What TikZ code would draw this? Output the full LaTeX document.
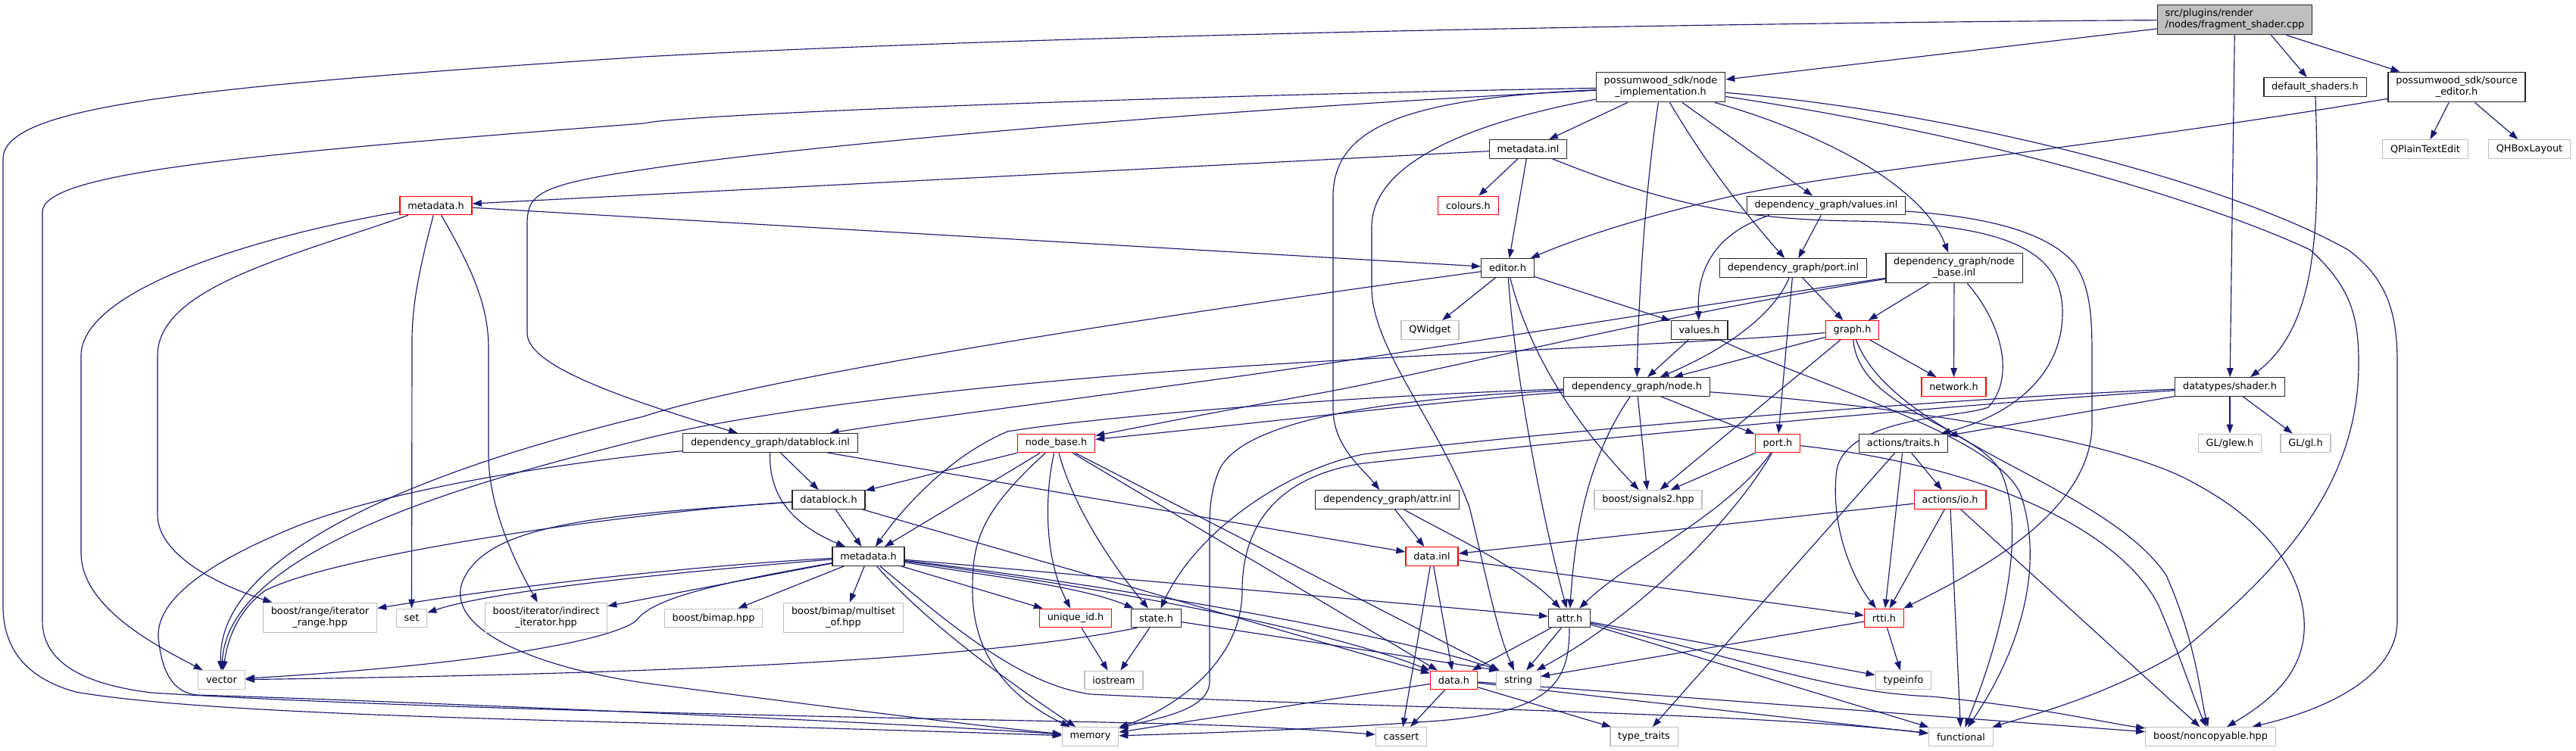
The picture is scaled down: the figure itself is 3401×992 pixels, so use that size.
\documentclass[tikz,border=0pt]{standalone}
\usepackage{fontspec}
\setmainfont{DejaVu Sans}
\usetikzlibrary{arrows.meta}
\definecolor{eb}{HTML}{191970}
\definecolor{gr}{HTML}{BFBFBF}
\definecolor{rd}{HTML}{FF0000}
\pgfdeclarelayer{background}
\pgfsetlayers{background,main}
\tikzset{
 base/.style={rectangle, line width=1.3pt, fill=white, inner xsep=10.35pt, inner ysep=2pt, minimum height=24.5pt, font=\fontsize{12.85}{15}\selectfont, text=black},
 box/.style={base, draw=black!85},
 rbox/.style={base, draw=rd},
 gbox/.style={base, draw=gr},
 two/.style={align=center, minimum height=39.5pt},
 root/.style={base, draw=black!85, fill=gr, align=left, minimum height=39.5pt},
 e/.style={draw=eb, line width=1.15pt, -{Triangle[length=12pt,width=8.5pt]}},
}
\begin{document}
\begin{tikzpicture}[x=1pt,y=-1pt]
\useasboundingbox (0,0) rectangle (3401,992);
% nodes
\node[root] (F) at (2950.5,26) {src/plugins/render\\/nodes/fragment\_shader.cpp};
\node[box,two] (NI) at (2192.5,115) {possumwood\_sdk/node\\\_implementation.h};
\node[box] (DS) at (3056.5,115) {default\_shaders.h};
\node[box,two] (SE) at (3243.5,115) {possumwood\_sdk/source\\\_editor.h};
\node[box] (MDI) at (2017.5,197) {metadata.inl};
\node[gbox] (QPT) at (3202,197) {QPlainTextEdit};
\node[gbox] (QHB) at (3339.5,197) {QHBoxLayout};
\node[rbox] (MDH1) at (575.5,271.5) {metadata.h};
\node[rbox] (COL) at (1938.5,271.5) {colours.h};
\node[box] (VINL) at (2411,271.5) {dependency\_graph/values.inl};
\node[box] (ED) at (1990.5,354) {editor.h};
\node[box] (PINL) at (2367.5,354) {dependency\_graph/port.inl};
\node[box,two] (NBI) at (2580,354) {dependency\_graph/node\\\_base.inl};
\node[gbox] (QW) at (1888,436) {QWidget};
\node[box] (VH) at (2243.5,436) {values.h};
\node[rbox] (GH) at (2445.5,436) {graph.h};
\node[box] (NODEH) at (2161,511) {dependency\_graph/node.h};
\node[rbox] (NET) at (2579.5,511) {network.h};
\node[box] (SH) at (2944,511) {datatypes/shader.h};
\node[box] (DBI) at (1017,585) {dependency\_graph/datablock.inl};
\node[rbox] (NB) at (1394.5,585.5) {node\_base.h};
\node[rbox] (PORT) at (2347,585.5) {port.h};
\node[box] (TRAITS) at (2513,585.5) {actions/traits.h};
\node[gbox] (GLEW) at (2944,585.5) {GL/glew.h};
\node[gbox] (GL) at (3044,585.5) {GL/gl.h};
\node[box] (DB) at (1094,660) {datablock.h};
\node[box] (AINL) at (1831.5,660) {dependency\_graph/attr.inl};
\node[gbox] (SIG) at (2176,660) {boost/signals2.hpp};
\node[rbox] (IO) at (2574.5,660) {actions/io.h};
\node[box] (MD) at (1146.5,735) {metadata.h};
\node[rbox] (DINL) at (1890.5,735) {data.inl};
\node[gbox,two] (RANGE) at (422.5,816) {boost/range/iterator\\\_range.hpp};
\node[gbox] (SET) at (543.5,816.5) {set};
\node[gbox,two] (INDIR) at (721,816) {boost/iterator/indirect\\\_iterator.hpp};
\node[gbox] (BIMAP) at (942,816.5) {boost/bimap.hpp};
\node[gbox,two] (MULTI) at (1113.5,816) {boost/bimap/multiset\\\_of.hpp};
\node[rbox] (UID) at (1420,816.5) {unique\_id.h};
\node[box] (STATE) at (1526.5,816.5) {state.h};
\node[box] (ATTR) at (2072,816.5) {attr.h};
\node[rbox] (RTTI) at (2487.5,816.5) {rtti.h};
\node[gbox] (VEC) at (292.5,898) {vector};
\node[gbox] (IOS) at (1470.5,898.5) {iostream};
\node[rbox] (DATA) at (1919.5,898.5) {data.h};
\node[gbox] (STR) at (2004.5,898.5) {string};
\node[gbox] (TYPEINFO) at (2513,898.5) {typeinfo};
\node[gbox] (MEM) at (1439.5,973) {memory};
\node[gbox] (CASSERT) at (1850,973) {cassert};
\node[gbox] (TT) at (2170.5,973) {type\_traits};
\node[gbox] (FUNC) at (2589,973.5) {functional};
\node[gbox] (NONC) at (2918.5,973) {boost/noncopyable.hpp};

\begin{pgfonlayer}{background}
\fill[white] (0,0) rectangle (3401,992);
% F
\draw[e] (F) -- (NI);
\draw[e] ([xshift=48pt]F.south) -- (DS);
\draw[e] ([xshift=68pt]F.south) -- ([xshift=-75pt]SE.north);
\draw[e] (F) -- (SH);
\draw[e] (F) .. controls (2300,30) and (1400,45) .. (850,75) .. controls (250,115) and (4,140) .. (4,210) -- (4,800) .. controls (4,870) and (50,900) .. (100,914) .. controls (250,940) and (600,948) .. (850,955) .. controls (1100,962) and (1300,968) .. (MEM);
% DS
\draw[e] (DS) .. controls (3063,300) and (3060,430) .. ([xshift=27pt]SH.north);
% SE
\draw[e] (SE) -- (QPT);
\draw[e] (SE) -- (QHB);
\draw[e] (SE) .. controls (2800,190) and (2450,225) .. (2300,256) .. controls (2150,290) and (2070,320) .. (ED);
% NI
\draw[e] (NI) -- (MDI);
\draw[e] (NI) -- (VINL);
\draw[e] (NI) .. controls (2260,230) and (2320,300) .. (PINL);
\draw[e] (NI) .. controls (2172,250) and (2163,400) .. (NODEH);
\draw[e] (NI) .. controls (2420,180) and (2540,250) .. (NBI);
\draw[e] (NI) .. controls (2600,150) and (2950,245) .. (3100,330) .. controls (3155,370) and (3165,420) .. (3165,480) -- (3165,820) .. controls (3165,890) and (3080,935) .. (NONC);
\draw[e] (NI) .. controls (2600,175) and (2900,260) .. (3050,330) .. controls (3105,380) and (3114,420) .. (3114,480) .. controls (3114,650) and (3000,760) .. (2880,860) .. controls (2780,920) and (2680,945) .. (FUNC);
\draw[e] (NI) .. controls (1500,150) and (1000,200) .. (850,224) .. controls (700,245) and (696,260) .. (696,300) -- (696,440) .. controls (696,480) and (800,520) .. (DBI);
\draw[e] (NI) .. controls (1850,130) and (1760,170) .. (1760,260) -- (1760,540) .. controls (1760,590) and (1800,620) .. (AINL);
\draw[e] (NI) .. controls (1900,170) and (1811,230) .. (1811,300) -- (1811,380) .. controls (1811,460) and (1900,560) .. (1940,670) .. controls (1960,750) and (1975,830) .. (STR);
\draw[e] (NI) .. controls (1600,125) and (900,150) .. (850,163) .. controls (300,205) and (56,230) .. (56,280) -- (56,820) .. controls (56,880) and (120,905) .. (200,915) .. controls (600,940) and (1300,950) .. (1500,955) .. controls (1650,958) and (1750,965) .. (CASSERT);
% MDI
\draw[e] (MDI) -- (MDH1);
\draw[e] (MDI) -- (COL);
\draw[e] (MDI) -- (ED);
\draw[e] (MDI) .. controls (2200,270) and (2300,290) .. (2450,292) .. controls (2650,296) and (2723,330) .. (2723,413) .. controls (2723,500) and (2650,550) .. (TRAITS);
% MDH1
\draw[e] (MDH1) -- (ED);
\draw[e] (MDH1) .. controls (350,310) and (107,380) .. (107,470) -- (107,730) .. controls (107,800) and (200,850) .. (VEC);
\draw[e] (MDH1) .. controls (380,340) and (208,380) .. (208,470) -- (208,680) .. controls (208,730) and (280,770) .. (RANGE);
\draw[e] (MDH1) .. controls (555,350) and (544,400) .. (544,450) -- (SET);
\draw[e] (MDH1) .. controls (620,350) and (645,400) .. (645,460) -- (645,600) .. controls (645,680) and (690,760) .. (INDIR);
% VINL
\draw[e] (VINL) -- (PINL);
\draw[e] ([xshift=-75pt]VINL.south) .. controls (2260,310) and (2240,360) .. (VH);
\draw[e] (VINL) .. controls (2600,285) and (2700,300) .. (2740,350) .. controls (2760,380) and (2762,420) .. (2762,470) -- (2762,560) .. controls (2762,680) and (2600,760) .. (RTTI);
% ED
\draw[e] (ED) -- (QW);
\draw[e] (ED) -- (VH);
\draw[e] (ED) .. controls (2000,500) and (2040,700) .. (ATTR);
\draw[e] (ED) .. controls (2020,470) and (2080,560) .. (SIG);
\draw[e] (ED) .. controls (1500,420) and (1000,500) .. (850,550) .. controls (560,620) and (285,730) .. (VEC);
% PINL
\draw[e] (PINL) -- (GH);
\draw[e] (PINL) -- (PORT);
\draw[e] (PINL) .. controls (2340,420) and (2270,465) .. (NODEH);
% NBI
\draw[e] (NBI) -- (GH);
\draw[e] (NBI) -- (NET);
\draw[e] (NBI) .. controls (2200,410) and (1800,475) .. (1614,500) .. controls (1400,530) and (1200,555) .. (DBI);
\draw[e] (NBI) .. controls (2200,415) and (1900,490) .. (1750,518) .. controls (1600,545) and (1500,565) .. (NB);
\draw[e] (NBI) .. controls (2645,430) and (2660,500) .. (2625,538) .. controls (2590,552) and (2440,550) .. (2425,620) .. controls (2415,700) and (2450,770) .. (RTTI);
% VH
\draw[e] (VH) -- (NODEH);
\draw[e] (VH) .. controls (2400,510) and (2650,580) .. (2670,660) .. controls (2700,760) and (2660,870) .. (FUNC);
% GH
\draw[e] (GH) -- (NET);
\draw[e] (GH) -- (SIG);
\draw[e] (GH) -- (NODEH);
\draw[e] (GH) .. controls (2300,450) and (2000,462) .. (1700,480) .. controls (1450,495) and (1050,530) .. (850,580) .. controls (650,630) and (300,720) .. (VEC);
\draw[e] (GH) .. controls (2455,540) and (2600,560) .. (2640,620) .. controls (2680,700) and (2640,850) .. (FUNC);
\draw[e] (GH) .. controls (2500,580) and (2780,640) .. (2860,760) .. controls (2900,850) and (2905,920) .. (NONC);
% NODEH
\draw[e] (NODEH) .. controls (1900,530) and (1700,555) .. (NB);
\draw[e] (NODEH) .. controls (1800,522) and (1450,550) .. (1330,570) .. controls (1260,600) and (1200,660) .. (MD);
\draw[e] (NODEH) .. controls (1800,528) and (1640,560) .. (1610,620) .. controls (1597,650) and (1597,680) .. (1597,700) -- (1597,900) .. controls (1597,940) and (1520,950) .. (MEM);
\draw[e] (NODEH) -- (PORT);
\draw[e] (NODEH) -- (SIG);
\draw[e] (NODEH) .. controls (2100,600) and (2080,690) .. (ATTR);
\draw[e] (NODEH) .. controls (2500,535) and (2800,580) .. (2900,640) .. controls (3030,710) and (3050,800) .. (3040,850) .. controls (3030,900) and (2990,930) .. (NONC);
% SH
\draw[e] (SH) -- (GLEW);
\draw[e] (SH) -- (GL);
\draw[e] (SH) -- (TRAITS);
\draw[e] (SH) .. controls (2500,530) and (2000,575) .. (1800,600) .. controls (1700,620) and (1580,700) .. (STATE);
\draw[e] (SH) .. controls (2500,540) and (2000,590) .. (1800,612) .. controls (1680,630) and (1640,700) .. (1640,780) .. controls (1640,880) and (1540,940) .. (MEM);
% DBI
\draw[e] (DBI) -- (DB);
\draw[e] (DBI) .. controls (1015,650) and (1040,690) .. (MD);
\draw[e] (DBI) -- (DINL);
\draw[e] (DBI) .. controls (800,605) and (520,640) .. (380,700) .. controls (260,750) and (200,800) .. (210,850) .. controls (215,890) and (230,915) .. (260,918) .. controls (500,925) and (1200,955) .. (MEM);
% DB
\draw[e] (DB) -- (MD);
\draw[e] (DB) .. controls (850,675) and (450,730) .. (350,780) .. controls (310,810) and (300,850) .. (VEC);
\draw[e] (DB) .. controls (800,680) and (640,690) .. (610,770) .. controls (590,830) and (700,880) .. (850,902) .. controls (1100,935) and (1300,960) .. (MEM);
\draw[e] (DB) -- (DATA);
% NB
\draw[e] (NB) -- (DB);
\draw[e] (NB) -- (MD);
\draw[e] (NB) .. controls (1290,680) and (1284,720) .. (1284,780) .. controls (1284,880) and (1350,930) .. (MEM);
\draw[e] (NB) .. controls (1378,660) and (1380,740) .. (UID);
\draw[e] (NB) .. controls (1420,680) and (1480,760) .. (STATE);
\draw[e] (NB) -- (DATA);
\draw[e] (NB) -- (STR);
% MD
\draw[e] (MD) .. controls (950,745) and (700,770) .. (RANGE);
\draw[e] (MD) .. controls (900,755) and (650,780) .. (SET);
\draw[e] (MD) -- (INDIR);
\draw[e] (MD) .. controls (950,770) and (860,790) .. (840,820) .. controls (800,850) and (600,880) .. (VEC);
\draw[e] (MD) -- (BIMAP);
\draw[e] (MD) -- (MULTI);
\draw[e] (MD) -- (UID);
\draw[e] (MD) .. controls (1300,760) and (1430,775) .. (STATE);
\draw[e] (MD) -- (ATTR);
\draw[e] (MD) .. controls (1450,775) and (1750,830) .. (DATA);
\draw[e] (MD) .. controls (1450,770) and (1850,840) .. ([xshift=4pt]STR.north west);
\draw[e] (MD) .. controls (1220,820) and (1330,900) .. (MEM);
\draw[e] (MD) .. controls (1260,830) and (1350,905) .. (1440,917) .. controls (1800,935) and (2300,940) .. (FUNC);
% UID, STATE
\draw[e] (UID) -- (IOS);
\draw[e] (STATE) -- (IOS);
\draw[e] ([xshift=8pt]STATE.south west) .. controls (1300,870) and (900,890) .. (VEC);
\draw[e] (STATE) -- ([xshift=3pt]STR.north west);
% AINL
\draw[e] (AINL) -- (DINL);
\draw[e] (AINL) .. controls (1900,700) and (2010,750) .. (ATTR);
% DINL
\draw[e] (DINL) -- (RTTI);
\draw[e] (DINL) -- (DATA);
\draw[e] (DINL) -- (CASSERT);
% PORT
\draw[e] (PORT) -- (SIG);
\draw[e] (PORT) .. controls (2280,680) and (2150,740) .. (ATTR);
\draw[e] (PORT) .. controls (2280,700) and (2150,820) .. (STR);
\draw[e] (PORT) .. controls (2620,615) and (2800,700) .. (2850,800) .. controls (2880,870) and (2895,920) .. (NONC);
% TRAITS
\draw[e] (TRAITS) -- (IO);
\draw[e] (TRAITS) -- (RTTI);
\draw[e] (TRAITS) -- (TT);
% IO
\draw[e] (IO) -- (DINL);
\draw[e] (IO) -- (RTTI);
\draw[e] (IO) -- (FUNC);
\draw[e] (IO) -- (NONC);
% ATTR
\draw[e] (ATTR) -- (DATA);
\draw[e] (ATTR) -- (STR);
\draw[e] (ATTR) .. controls (2072,900) and (2050,940) .. (1900,952) .. controls (1750,963) and (1600,968) .. (MEM);
\draw[e] (ATTR) -- (TYPEINFO);
\draw[e] (ATTR) -- (FUNC);
\draw[e] (ATTR) .. controls (2300,870) and (2420,915) .. (2550,920) .. controls (2700,935) and (2780,955) .. (NONC);
% RTTI
\draw[e] (RTTI) -- (STR);
\draw[e] (RTTI) -- (TYPEINFO);
% DATA
\draw[e] (DATA) -- (MEM);
\draw[e] (DATA) -- (CASSERT);
\draw[e] (DATA) -- (TT);
\draw[e] (DATA) -- (FUNC);
\draw[e] (DATA) -- (NONC);
\end{pgfonlayer}
\end{tikzpicture}
\end{document}
